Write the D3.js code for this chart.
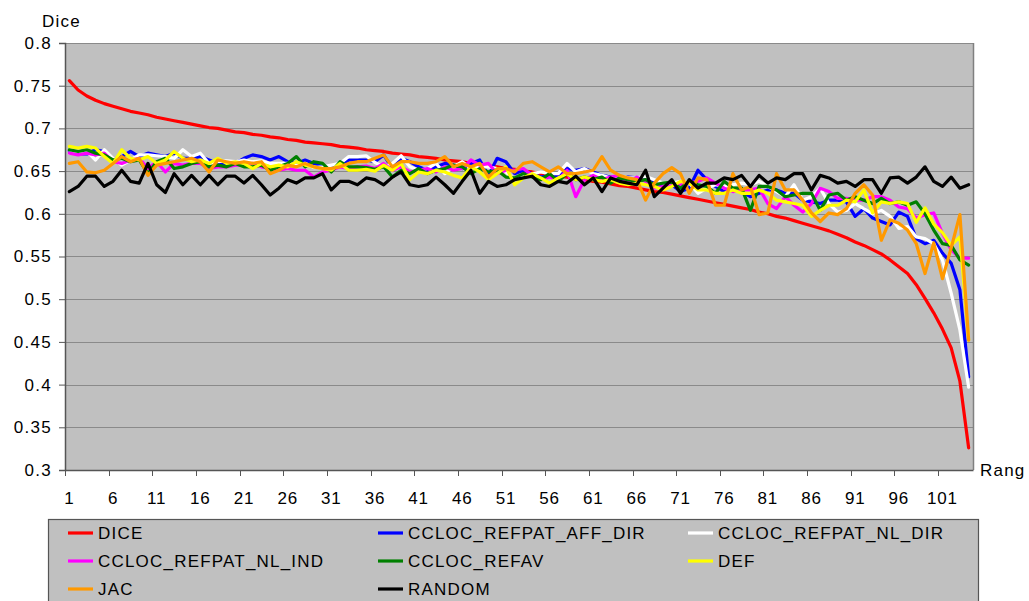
<!DOCTYPE html>
<html>
<head>
<meta charset="utf-8">
<script src="https://cdn.jsdelivr.net/npm/d3@7"></script>
<style>
  html, body { margin: 0; padding: 0; background: #ffffff; }
  svg text { font-family: "Liberation Sans", Arial, sans-serif; fill: #000; }
</style>
</head>
<body>
<svg id="chart" width="1029" height="601"></svg>
<script>
// Ranks 1..104 on the category axis
const ranks = d3.range(1, 105);
const xTickLabels = [1, 6, 11, 16, 21, 26, 31, 36, 41, 46, 51, 56, 61, 66, 71, 76, 81, 86, 91, 96, 101];
const yTickValues = [0.3, 0.35, 0.4, 0.45, 0.5, 0.55, 0.6, 0.65, 0.7, 0.75, 0.8];

const seriesNames = ["DICE", "CCLOC_REFPAT_AFF_DIR", "CCLOC_REFPAT_NL_DIR", "CCLOC_REFPAT_NL_IND",
                     "CCLOC_REFAV", "DEF", "JAC", "RANDOM"];
const seriesColors = ["#ff0000", "#0000ff", "#ffffff", "#ff00ff", "#008000", "#ffff00", "#ff9900", "#000000"];

const dice = [
  0.756,0.745,0.738,0.733,0.729,0.726,0.723,0.720,0.718,0.716,
  0.713,0.711,0.709,0.707,0.705,0.703,0.701,0.700,0.698,0.696,
  0.695,0.693,0.692,0.690,0.689,0.687,0.686,0.684,0.683,0.682,
  0.681,0.679,0.678,0.677,0.675,0.674,0.673,0.671,0.670,0.669,
  0.667,0.666,0.665,0.663,0.662,0.661,0.659,0.658,0.656,0.655,
  0.653,0.652,0.650,0.649,0.647,0.646,0.644,0.643,0.641,0.640,
  0.638,0.637,0.635,0.633,0.632,0.630,0.628,0.626,0.625,0.623,
  0.621,0.619,0.617,0.615,0.613,0.611,0.609,0.607,0.605,0.602,
  0.600,0.597,0.595,0.592,0.589,0.586,0.583,0.580,0.576,0.572,
  0.567,0.563,0.558,0.553,0.546,0.538,0.530,0.517,0.501,0.484,
  0.465,0.443,0.404,0.326
];

const affDir = [
  0.674,0.670,0.670,0.675,0.673,0.663,0.667,0.673,0.667,0.671,
  0.669,0.667,0.671,0.665,0.665,0.667,0.663,0.659,0.657,0.659,
  0.665,0.669,0.667,0.663,0.667,0.661,0.659,0.663,0.659,0.655,
  0.653,0.657,0.663,0.663,0.663,0.661,
  0.669,0.653,0.665,0.661,0.655,0.651,0.655,0.659,0.657,0.653,
  0.659,0.663,0.645,0.665,0.661,0.647,0.651,0.647,0.643,0.645,
  0.643,0.653,0.651,0.653,0.649,0.645,0.643,0.640,0.643,0.642,
  0.640,0.636,0.634,0.634,
  0.626,0.630,0.651,0.640,0.632,0.626,0.628,0.626,0.620,0.624,
  0.628,0.628,0.624,0.624,0.616,0.614,0.612,0.616,0.616,0.614,
  0.597,0.606,0.595,0.591,0.587,0.602,0.597,0.571,0.565,0.569,
  0.554,0.542,0.511,0.409
];

const nlDir = [
  0.671,0.673,0.673,0.663,0.675,0.665,0.657,0.663,0.669,0.669,
  0.668,0.667,0.665,0.675,0.667,0.671,0.659,0.661,0.662,0.661,
  0.663,0.661,0.662,0.659,0.659,0.659,0.657,0.659,0.654,0.655,
  0.657,0.659,0.667,0.667,0.668,0.660,
  0.655,0.659,0.668,0.655,0.651,0.653,0.659,0.647,0.655,0.661,
  0.653,0.655,0.655,0.653,0.649,0.640,0.644,0.647,0.649,0.647,
  0.647,0.659,0.649,0.653,0.647,0.645,0.642,0.644,0.642,0.642,
  0.644,0.640,0.636,0.636,
  0.638,0.636,0.624,0.630,0.634,0.632,0.634,0.636,0.634,0.638,
  0.632,0.626,0.620,0.634,0.616,0.620,0.630,0.612,0.602,0.604,
  0.612,0.606,0.600,0.604,0.597,0.583,0.585,0.573,0.571,0.565,
  0.546,0.507,0.464,0.397
];

const nlInd = [
  0.671,0.669,0.671,0.669,0.671,0.661,0.659,0.663,0.665,0.653,
  0.661,0.649,0.659,0.657,0.659,0.659,0.653,0.655,0.655,0.657,
  0.657,0.659,0.655,0.653,0.651,0.653,0.651,0.651,0.643,0.649,
  0.651,0.655,0.653,0.655,0.656,0.653,
  0.659,0.651,0.655,0.649,0.651,0.653,0.649,0.655,0.651,0.653,
  0.663,0.657,0.659,0.647,0.651,0.651,0.653,0.645,0.640,0.643,
  0.640,0.651,0.620,0.640,0.645,0.640,0.643,0.645,0.636,0.643,
  0.638,0.630,0.632,0.633,
  0.634,0.636,0.638,0.642,0.636,0.630,0.626,0.628,0.628,0.630,
  0.612,0.606,0.620,0.610,0.602,0.612,0.630,0.626,0.618,0.618,
  0.616,0.616,0.620,0.620,0.616,0.608,0.606,0.595,0.599,0.601,
  0.577,0.558,0.548,0.548
];

const refav = [
  0.675,0.673,0.675,0.671,0.669,0.663,0.665,0.661,0.663,0.647,
  0.661,0.665,0.653,0.655,0.659,0.661,0.655,0.657,0.655,0.659,
  0.655,0.655,0.657,0.651,0.655,0.659,0.667,0.655,0.661,0.659,
  0.649,0.661,0.655,0.655,0.654,0.652,
  0.655,0.643,0.651,0.647,0.653,0.647,0.651,0.653,0.657,0.655,
  0.647,0.653,0.649,0.651,0.643,0.642,0.647,0.643,0.640,0.647,
  0.638,0.647,0.640,0.643,0.640,0.643,0.636,0.642,0.640,0.638,
  0.640,0.634,0.636,0.637,
  0.630,0.638,0.634,0.632,0.624,0.638,0.630,0.630,0.604,0.632,
  0.632,0.628,0.620,0.622,0.624,0.624,0.604,0.622,0.624,0.616,
  0.620,0.616,0.612,0.618,0.612,0.614,0.610,0.614,0.600,0.581,
  0.565,0.563,0.546,0.540
];

const def = [
  0.679,0.677,0.679,0.677,0.667,0.659,0.675,0.665,0.663,0.667,
  0.659,0.663,0.673,0.665,0.661,0.663,0.659,0.665,0.659,0.661,
  0.659,0.653,0.659,0.655,0.657,0.655,0.661,0.657,0.655,0.653,
  0.651,0.659,0.651,0.651,0.652,0.650,
  0.657,0.651,0.659,0.640,0.649,0.647,0.651,0.649,0.645,0.642,
  0.655,0.649,0.640,0.647,0.655,0.634,0.642,0.647,0.642,0.636,
  0.642,0.647,0.640,0.643,0.640,0.638,0.640,0.636,0.634,0.636,
  0.634,0.632,0.628,0.632,
  0.638,0.636,0.628,0.628,0.624,0.624,0.628,0.624,0.624,0.628,
  0.624,0.616,0.614,0.612,0.610,0.597,0.604,0.610,0.610,0.616,
  0.614,0.628,0.601,0.614,0.612,0.614,0.612,0.590,0.607,0.588,
  0.578,0.563,0.573,0.452
];

const jac = [
  0.659,0.661,0.649,0.648,0.651,0.659,0.667,0.661,0.665,0.645,
  0.657,0.659,0.661,0.663,0.665,0.661,0.649,0.663,0.661,0.659,
  0.661,0.659,0.661,0.647,0.651,0.657,0.655,0.659,0.655,0.653,
  0.653,0.655,0.659,0.661,0.661,0.665,
  0.669,0.655,0.661,0.661,0.659,0.659,0.661,0.667,0.655,0.659,
  0.655,0.659,0.643,0.653,0.653,0.649,0.659,0.661,0.655,0.649,
  0.655,0.647,0.647,0.649,0.651,0.667,0.651,0.645,0.642,0.640,
  0.616,0.636,0.647,0.654,
  0.647,0.624,0.642,0.640,0.610,0.610,0.647,0.628,0.632,0.599,
  0.601,0.647,0.628,0.628,0.616,0.601,0.591,0.601,0.599,0.606,
  0.624,0.634,0.622,0.569,0.593,0.589,0.581,0.565,0.530,0.566,
  0.524,0.560,0.599,0.452
];

const random = [
  0.626,0.632,0.644,0.644,0.632,0.638,0.651,0.638,0.636,0.659,
  0.634,0.625,0.647,0.634,0.645,0.634,0.645,0.634,0.644,0.644,
  0.636,0.645,0.634,0.622,0.630,0.640,0.636,0.642,0.642,0.647,
  0.628,0.638,0.638,0.634,0.642,0.640,
  0.634,0.643,0.649,0.634,0.632,0.634,0.643,0.634,0.624,0.638,
  0.651,0.624,0.638,0.632,0.634,0.640,0.642,0.644,0.634,0.632,
  0.638,0.636,0.644,0.634,0.642,0.626,0.642,0.638,0.636,0.634,
  0.651,0.620,0.630,0.640,
  0.624,0.640,0.630,0.636,0.636,0.642,0.640,0.645,0.632,0.645,
  0.636,0.642,0.640,0.647,0.647,0.628,0.645,0.642,0.636,0.638,
  0.632,0.640,0.640,0.624,0.642,0.643,0.636,0.643,0.655,0.638,
  0.632,0.643,0.630,0.634
];

const seriesValues = [dice, affDir, nlDir, nlInd, refav, def, jac, random];

// ---- layout ----
const svg = d3.select("#chart");
const plot = { left: 65, right: 973, top: 43, bottom: 470 };
const FONT = 17;

const x = d3.scaleBand().domain(ranks).range([plot.left, plot.right]).padding(0);
const cx = r => x(r) + x.bandwidth() / 2;
const y = d3.scaleLinear().domain([0.3, 0.8]).range([plot.bottom, plot.top]);

// plot background
svg.append("rect")
  .attr("x", plot.left).attr("y", plot.top)
  .attr("width", plot.right - plot.left).attr("height", plot.bottom - plot.top)
  .attr("fill", "#c0c0c0");

// horizontal gridlines
svg.append("g").selectAll("line")
  .data(yTickValues.filter(v => v > 0.3))
  .join("line")
  .attr("x1", plot.left).attr("x2", plot.right)
  .attr("y1", d => Math.round(y(d)) + 0.5).attr("y2", d => Math.round(y(d)) + 0.5)
  .attr("stroke", "#8a8a8a").attr("stroke-width", 1.2);

// right border of the plot area
svg.append("line")
  .attr("x1", plot.right + 0.5).attr("x2", plot.right + 0.5)
  .attr("y1", plot.top).attr("y2", plot.bottom)
  .attr("stroke", "#808080").attr("stroke-width", 1.5);

// series lines
const line = d3.line().x((d, i) => cx(ranks[i])).y(d => y(d));
svg.append("g").selectAll("path")
  .data(seriesValues)
  .join("path")
  .attr("d", d => line(d))
  .attr("fill", "none")
  .attr("stroke", (d, i) => seriesColors[i])
  .attr("stroke-width", 3.2)
  .attr("stroke-linejoin", "round")
  .attr("stroke-linecap", "round");

// y axis
const fmt = d => String(+d.toFixed(2));
const yAxis = svg.append("g")
  .attr("transform", `translate(${plot.left},0)`)
  .call(d3.axisLeft(y).tickValues(yTickValues).tickFormat(fmt).tickSize(6).tickPadding(7));
yAxis.select(".domain").attr("stroke", "#555").attr("stroke-width", 1.5);
yAxis.selectAll(".tick line").attr("stroke", "#555");
yAxis.selectAll(".tick text")
  .attr("font-size", FONT).attr("letter-spacing", "1.3px")
  .attr("font-family", "'Liberation Sans', Arial, sans-serif");

// x axis: labels centred on categories, tick marks at category boundaries
const xAxis = svg.append("g")
  .attr("transform", `translate(0,${plot.bottom})`)
  .call(d3.axisBottom(x).tickValues(xTickLabels).tickSize(0).tickPadding(22));
xAxis.select(".domain").attr("stroke", "#555").attr("stroke-width", 1.5);
xAxis.selectAll(".tick text")
  .attr("font-size", FONT).attr("letter-spacing", "0.8px")
  .attr("font-family", "'Liberation Sans', Arial, sans-serif");
xAxis.selectAll("line.boundary")
  .data(xTickLabels)
  .join("line")
  .attr("class", "boundary")
  .attr("x1", d => Math.round(x(d)) + 0.5).attr("x2", d => Math.round(x(d)) + 0.5)
  .attr("y1", 0).attr("y2", 6)
  .attr("stroke", "#555");

// axis titles
svg.append("text").attr("x", 42).attr("y", 27)
  .attr("font-size", FONT).attr("letter-spacing", "1.2px").text("Dice");
svg.append("text").attr("x", 980).attr("y", 476)
  .attr("font-size", FONT).attr("letter-spacing", "1.2px").text("Rang");

// legend
const legend = svg.append("g");
legend.append("rect")
  .attr("x", 48.5).attr("y", 519.5).attr("width", 930).attr("height", 100)
  .attr("fill", "#c0c0c0").attr("stroke", "#555").attr("stroke-width", 1.2);

const colX = [68, 378, 688];
const rowY = [533, 561, 589];
const items = legend.selectAll("g.item")
  .data(seriesNames)
  .join("g")
  .attr("class", "item")
  .attr("transform", (d, i) => `translate(${colX[i % 3]},${rowY[Math.floor(i / 3)]})`);
items.append("line")
  .attr("x1", 0).attr("x2", 25).attr("y1", 0).attr("y2", 0)
  .attr("stroke", (d, i) => seriesColors[i]).attr("stroke-width", 3.2);
items.append("text")
  .attr("x", 30).attr("y", 0).attr("dy", "0.36em")
  .attr("font-size", FONT).attr("letter-spacing", "1.2px")
  .text(d => d);
</script>
</body>
</html>
